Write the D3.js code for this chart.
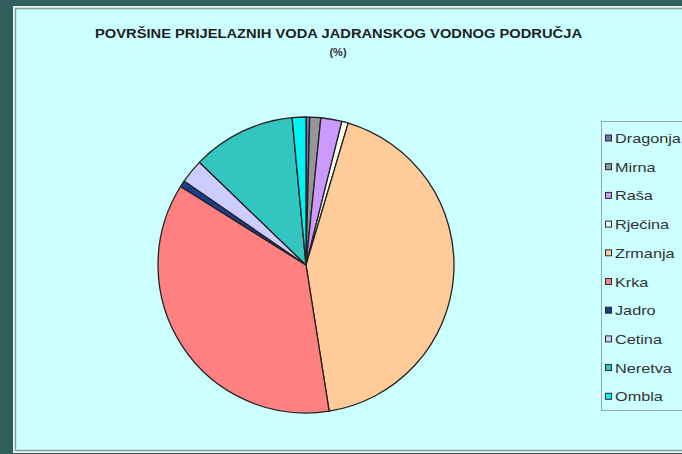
<!DOCTYPE html>
<html>
<head>
<meta charset="utf-8">
<script src="https://cdn.jsdelivr.net/npm/d3@7"></script>
<style>
  html, body { margin: 0; padding: 0; background: #2f5e5c; }
  svg { display: block; }
</style>
</head>
<body>
<svg id="chart" width="682" height="454"></svg>
<script>
// Transitional water areas of the Adriatic basin, share in %
const rivers = ["Dragonja", "Mirna", "Raša", "Rječina", "Zrmanja", "Krka", "Jadro", "Cetina", "Neretva", "Ombla"];
const shares = [0.4, 1.2, 2.3, 0.7, 42.9, 36.4, 0.7, 2.6, 11.3, 1.5];
const colors = ["#7470b8", "#969696", "#cc99ff", "#f8fff0", "#ffcc99", "#ff8080", "#1c3c8c", "#ccccff", "#33c6c0", "#00f4f4"];
const titleLines = ["POVRŠINE PRIJELAZNIH VODA JADRANSKOG VODNOG PODRUČJA", "(%)"];

const svg = d3.select("#chart");
const font = "'Liberation Sans', Arial, sans-serif";

// chart panel
svg.append("rect")
  .attr("x", 0).attr("y", 0).attr("width", 682).attr("height", 454)
  .attr("fill", "#2f5e5c");
svg.append("rect")
  .attr("x", 13).attr("y", 6).attr("width", 690).attr("height", 447)
  .attr("fill", "#e8f4f4");
svg.append("rect")
  .attr("x", 15.5).attr("y", 8.5).attr("width", 690).attr("height", 442)
  .attr("fill", "#ccffff")
  .attr("stroke", "#8e9c9c").attr("stroke-width", 1.5);

// title
svg.append("text")
  .attr("x", 338.5).attr("y", 38)
  .attr("text-anchor", "middle")
  .attr("font-family", font).attr("font-size", 13.5).attr("font-weight", "bold")
  .attr("fill", "#1e1e1e")
  .attr("textLength", 487).attr("lengthAdjust", "spacingAndGlyphs")
  .text(titleLines[0]);
svg.append("text")
  .attr("x", 338).attr("y", 56)
  .attr("text-anchor", "middle")
  .attr("font-family", font).attr("font-size", 11).attr("font-weight", "bold")
  .attr("fill", "#333")
  .text(titleLines[1]);

// pie
const cx = 306, cy = 265, radius = 148;
const pie = d3.pie().sort(null).value(d => d.v).startAngle(0).endAngle(2 * Math.PI);
const arc = d3.arc().innerRadius(0).outerRadius(radius);
const data = rivers.map((name, i) => ({ name, v: shares[i], color: colors[i] }));

svg.append("g")
  .attr("transform", `translate(${cx},${cy})`)
  .selectAll("path")
  .data(pie(data))
  .join("path")
  .attr("d", arc)
  .attr("fill", d => d.data.color)
  .attr("stroke", "#222")
  .attr("stroke-width", 1.3)
  .attr("stroke-linejoin", "round");

// legend
const legendX = 601, legendY = 121, step = 28.7;
svg.append("rect")
  .attr("x", legendX + 0.5).attr("y", legendY + 0.5)
  .attr("width", 120).attr("height", 289)
  .attr("fill", "#ccffff")
  .attr("stroke", "#9aa6a6").attr("stroke-width", 1);

const y = d3.scalePoint().domain(rivers).range([legendY + 17.5, legendY + 17.5 + step * 9]);
const item = svg.append("g").selectAll("g")
  .data(data)
  .join("g")
  .attr("transform", d => `translate(${legendX}, ${y(d.name)})`);
item.append("rect")
  .attr("x", 4.5).attr("y", -3.5).attr("width", 6).attr("height", 6)
  .attr("fill", d => d.color)
  .attr("stroke", "#2a2a2a").attr("stroke-width", 1);
// legend labels are drawn wide, stretched horizontally
item.append("text")
  .attr("transform", "translate(14, 4.5) scale(1.25, 1)")
  .attr("font-family", font).attr("font-size", 13)
  .attr("fill", "#333")
  .text(d => d.name);
</script>
</body>
</html>
